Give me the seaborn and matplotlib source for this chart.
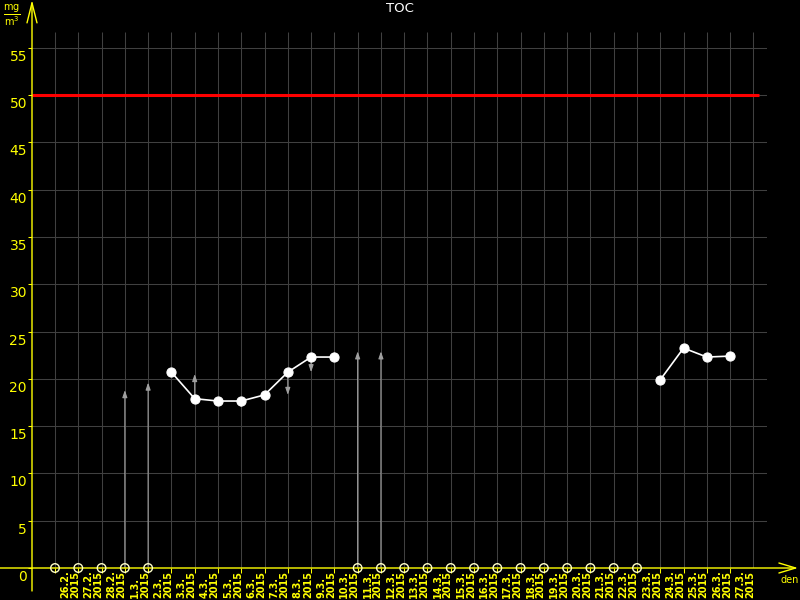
import numpy as np
import pandas as pd
import matplotlib
matplotlib.use("Agg")
import matplotlib.pyplot as plt
import matplotlib.transforms as mtransforms
import seaborn as sns

# ---------------- data ----------------
dates = ["26.2.", "27.2.", "28.2.", "1.3.", "2.3.", "3.3.", "4.3.", "5.3.", "6.3.", "7.3.",
         "8.3.", "9.3.", "10.3.", "11.3.", "12.3.", "13.3.", "14.3.", "15.3.", "16.3.", "17.3.",
         "18.3.", "19.3.", "20.3.", "21.3.", "22.3.", "23.3.", "24.3.", "25.3.", "26.3.", "27.3."]
year = "2015"
toc = [None, None, None, None, None, 20.7, 17.9, 17.65, 17.65, 18.3,
       20.7, 22.3, 22.3, None, None, None, None, None, None, None,
       None, None, None, None, None, None, 19.9, 23.25, 22.3, 22.4]
limit_value = 50
arrow_dates = ["1.3.", "2.3.", "4.3.", "5.3.", "6.3.", "8.3.", "9.3.", "10.3.", "11.3.", "12.3."]
arrow_from = [0, 0, 17.9, 17.65, 17.65, 20.7, 22.3, 22.3, 0, 0]
arrow_to = [18.8, 19.6, 20.5, 17.0, 16.9, 18.3, 20.7, 22.9, 22.9, 22.9]
y_ticks = [0, 5, 10, 15, 20, 25, 30, 35, 40, 45, 50, 55]
title = "TOC"
unit_label = r"$\frac{\mathrm{mg}}{\mathrm{m^3}}$"
x_unit = "den"

# ---------------- frame ----------------
df = pd.DataFrame({"pos": np.arange(len(dates)), "date": dates,
                   "toc": pd.to_numeric(pd.Series(toc, dtype="float"))})
df["segment"] = df["toc"].isna().cumsum()
valid = df.dropna(subset=["toc"])
missing = df[df["toc"].isna()]

YEL = "#ffff00"
GRID = "#404040"

sns.set_theme(style="dark", rc={"axes.facecolor": "black", "figure.facecolor": "black",
                                "savefig.facecolor": "black"})
plt.rcParams["font.family"] = ["DejaVu Sans"]

fig = plt.figure(figsize=(8, 6), dpi=100)
ax = fig.add_axes([32 / 800, 32 / 600, (767 - 32) / 800, (568 - 32) / 600])
ax.set_facecolor("black")
x_lo, x_hi = -0.988, 30.584
y_hi = 56.66
ax.set_xlim(x_lo, x_hi)
ax.set_ylim(0, y_hi)
for s in ax.spines.values():
    s.set_visible(False)
ax.grid(False)

# grid
ax.vlines(np.arange(len(dates) + 1), 0, y_hi, color=GRID, lw=0.75, zorder=1)
ax.hlines(y_ticks[1:], x_lo, x_hi, color=GRID, lw=0.75, zorder=1)

# limit line
ax.hlines(limit_value, x_lo, 30.24, color="#ff0000", lw=2.2, zorder=3)

# arrows
pos_of = {d: i for i, d in enumerate(dates)}
for d, a0, a1 in zip(arrow_dates, arrow_from, arrow_to):
    ax.annotate("", xy=(pos_of[d], a1), xytext=(pos_of[d], a0), xycoords="data",
                arrowprops=dict(arrowstyle="-|>,head_length=0.35,head_width=0.12",
                                color="#a0a0a0", lw=0.8, shrinkA=0, shrinkB=0),
                zorder=2, annotation_clip=False)

# series line
sns.lineplot(data=valid, x="pos", y="toc", units="segment", estimator=None,
             color="white", lw=1.2, marker="o", markersize=6.6,
             markeredgecolor="white", ax=ax, zorder=5, legend=False)

# missing markers
sns.scatterplot(x=missing["pos"], y=np.zeros(len(missing)), marker="o", s=38,
                facecolor="none", edgecolor="#ffffc8", linewidth=1.0,
                ax=ax, zorder=6, clip_on=False, legend=False)

# ticks
ax.set_xticks(df["pos"])
ax.set_xticklabels([""] * len(dates))
ax.tick_params(axis="x", colors=YEL, direction="out", length=3.6, width=0.75, bottom=True)
ax.set_yticks(y_ticks)
ax.set_yticklabels([str(v) for v in y_ticks], color=YEL, fontsize=10)
ax.tick_params(axis="y", colors=YEL, direction="out", length=2.9, width=0.75, pad=0.7, left=True)
off = mtransforms.ScaledTranslation(0, -2 / 100, fig.dpi_scale_trans)
for lab in ax.get_yticklabels():
    lab.set_va("top")
    lab.set_transform(lab.get_transform() + off)
ax.set_xlabel("")
ax.set_ylabel("")

# x labels (rotated date + year)
trans = mtransforms.blended_transform_factory(ax.transData, fig.transFigure)
shift = mtransforms.ScaledTranslation(15 / 100, 0, fig.dpi_scale_trans)
for i, d in enumerate(dates):
    ax.text(i, 2 / 600, d + "\n" + year, transform=trans + shift, rotation=90,
            ha="center", va="bottom", multialignment="left", linespacing=1.0,
            color=YEL, fontsize=7, fontweight="bold", clip_on=False)

# axes lines with arrows
ax.annotate("", xy=(32, 600), xytext=(32, 9), xycoords="figure pixels",
            textcoords="figure pixels",
            arrowprops=dict(arrowstyle="->,head_length=1.2,head_width=0.3", color=YEL,
                            lw=1.0, shrinkA=0, shrinkB=0), annotation_clip=False)
ax.annotate("", xy=(798, 32), xytext=(0, 32), xycoords="figure pixels",
            textcoords="figure pixels",
            arrowprops=dict(arrowstyle="->,head_length=1.0,head_width=0.3", color=YEL,
                            lw=1.0, shrinkA=0, shrinkB=0), annotation_clip=False)

fig.text(790 / 800, 20 / 600, x_unit, color=YEL, fontsize=7, ha="center", va="center")
fig.text(12 / 800, 585 / 600, unit_label, color=YEL, fontsize=10, ha="center", va="center")
fig.text(400 / 800, 592 / 600, title, color="white", fontsize=9.5, ha="center", va="center")

fig.savefig("out.png", dpi=100, facecolor="black")
